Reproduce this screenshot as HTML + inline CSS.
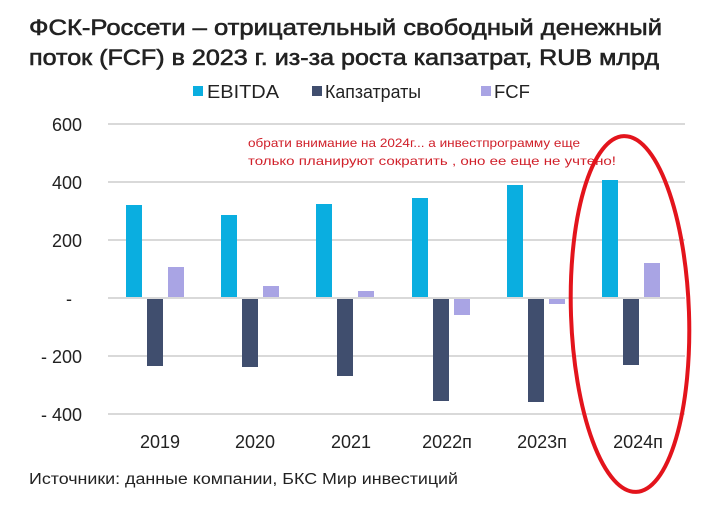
<!DOCTYPE html>
<html><head><meta charset="utf-8"><style>
body{margin:0;background:#fff;width:716px;height:511px;overflow:hidden}
svg{display:block}
text{font-family:"Liberation Sans","DejaVu Sans",sans-serif}
</style></head><body>
<svg width="716" height="511" viewBox="0 0 716 511">
<text x="29" y="35" font-size="22.5" fill="#222" stroke="#222" stroke-width="0.6" textLength="633" lengthAdjust="spacingAndGlyphs">ФСК-Россети – отрицательный свободный денежный</text>
<text x="29" y="65" font-size="22.5" fill="#222" stroke="#222" stroke-width="0.6" textLength="630" lengthAdjust="spacingAndGlyphs">поток (FCF) в 2023 г. из-за роста капзатрат, RUB млрд</text>
<rect x="193" y="86" width="10" height="10" fill="#0aaee0"/>
<text x="207" y="98" font-size="18" fill="#222" textLength="72" lengthAdjust="spacingAndGlyphs">EBITDA</text>
<rect x="312" y="86" width="10" height="10" fill="#404e6e"/>
<text x="325" y="98" font-size="18" fill="#222" textLength="96" lengthAdjust="spacingAndGlyphs">Капзатраты</text>
<rect x="481" y="86" width="10" height="10" fill="#a9a4e4"/>
<text x="494" y="98" font-size="18" fill="#222" textLength="36" lengthAdjust="spacingAndGlyphs">FCF</text>
<g stroke="#d9d9d9" stroke-width="2">
<line x1="108" y1="124" x2="685" y2="124"/><line x1="108" y1="182" x2="685" y2="182"/>
<line x1="108" y1="240" x2="685" y2="240"/><line x1="108" y1="356" x2="685" y2="356"/>
<line x1="108" y1="414" x2="685" y2="414"/>
</g>
<g font-size="18" fill="#222" text-anchor="end">
<text x="82" y="131">600</text><text x="82" y="189">400</text><text x="82" y="247">200</text>
<text x="72" y="305">-</text><text x="82" y="363">- 200</text><text x="82" y="421">- 400</text>
</g>
<g fill="#0aaee0">
<rect x="126" y="205" width="16" height="93"/><rect x="221" y="215" width="16" height="83"/>
<rect x="316" y="204" width="16" height="94"/><rect x="412" y="198" width="16" height="100"/>
<rect x="507" y="185" width="16" height="113"/><rect x="602" y="180" width="16" height="118"/>
</g>
<g fill="#404e6e">
<rect x="147" y="299" width="16" height="67"/><rect x="242" y="299" width="16" height="68"/>
<rect x="337" y="299" width="16" height="77"/><rect x="433" y="299" width="16" height="102"/>
<rect x="528" y="299" width="16" height="103"/><rect x="623" y="299" width="16" height="66"/>
</g>
<g fill="#a9a4e4">
<rect x="168" y="267" width="16" height="31"/><rect x="263" y="286" width="16" height="12"/>
<rect x="358" y="291" width="16" height="7"/><rect x="454" y="299" width="16" height="16"/>
<rect x="549" y="299" width="16" height="5"/><rect x="644" y="263" width="16" height="35"/>
</g>
<line x1="108" y1="298" x2="685" y2="298" stroke="#d9d9d9" stroke-width="2"/>
<g font-size="18" fill="#222" text-anchor="middle">
<text x="160" y="448">2019</text><text x="255" y="448">2020</text><text x="351" y="448">2021</text>
<text x="447" y="448">2022п</text><text x="542" y="448">2023п</text><text x="638" y="448">2024п</text>
</g>
<text x="29" y="484" font-size="15.5" fill="#222" textLength="429" lengthAdjust="spacingAndGlyphs">Источники: данные компании, БКС Мир инвестиций</text>
<text x="248" y="147" font-size="12" fill="#d0202a" textLength="332" lengthAdjust="spacingAndGlyphs">обрати внимание на 2024г... а инвестпрограмму еще</text>
<text x="248" y="165" font-size="12" fill="#d0202a" textLength="368" lengthAdjust="spacingAndGlyphs">только планируют сократить , оно  ее еще не учтено!</text>
<ellipse cx="630" cy="314" rx="59" ry="178" fill="none" stroke="#e3141c" stroke-width="4" transform="rotate(-2 630 314)"/>
</svg>
</body></html>
